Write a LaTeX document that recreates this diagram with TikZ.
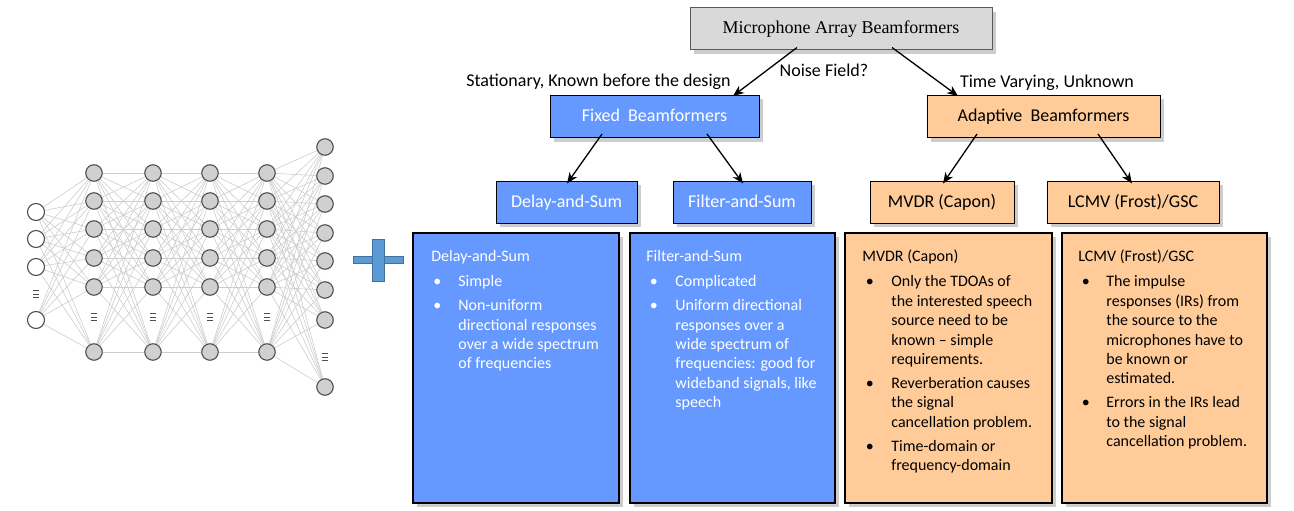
\documentclass[tikz,border=0pt]{standalone}
\usepackage{fontspec}
\setmainfont{Carlito}
\newfontfamily\serifmain{Liberation Serif}
\usetikzlibrary{arrows.meta,shadows,backgrounds}
\definecolor{fbblue}{RGB}{102,153,255}
\definecolor{aborange}{RGB}{255,204,153}
\definecolor{topgray}{RGB}{217,217,217}
\definecolor{topedge}{RGB}{90,90,90}
\definecolor{shgray}{RGB}{205,205,205}
\definecolor{nnedge}{RGB}{205,205,205}
\definecolor{nnfill}{RGB}{208,208,208}
\definecolor{nnline}{RGB}{80,80,80}
\definecolor{plusblue}{RGB}{91,155,213}
\definecolor{plusedge}{RGB}{65,113,156}
\begin{document}
\begin{tikzpicture}[x=1pt,y=-1pt,
  boxshadow/.style={drop shadow={shadow xshift=4pt,shadow yshift=-4pt,fill=shgray,opacity=1}},
  lbltext/.style={font=\fontsize{18}{21}\selectfont, inner sep=0pt},
  topbox/.style={draw=topedge, line width=1pt, fill=topgray, boxshadow, font=\serifmain\fontsize{18}{21}\selectfont, minimum width=302pt, minimum height=42pt, inner sep=0pt},
  smallbox/.style={draw=black, line width=1pt, boxshadow, font=\fontsize{18}{21}\selectfont, minimum height=42pt, inner sep=0pt, text height=12pt, text depth=2pt},
  bigbox/.style={draw=black, line width=1.6pt, boxshadow, minimum width=206pt, minimum height=270pt, inner sep=0pt},
  boxtext/.style={font=\fontsize{16}{19.4}\selectfont, inner sep=0pt, anchor=north west},
  arr/.style={-{Stealth[length=11pt,width=9pt,inset=3.5pt]}, line width=1.3pt},
  incirc/.style={circle, draw=nnline, fill=white, line width=1.1pt, minimum size=17pt, inner sep=0pt},
  hidcirc/.style={circle, draw=nnline, fill=nnfill, line width=1.1pt, minimum size=16.5pt, inner sep=0pt},
  nnlink/.style={draw=nnedge, line width=0.6pt},
  nndots/.style={draw=nnline, line width=0.9pt}
]
\useasboundingbox (0,0) rectangle (1294,511);

% ---------------- neural network ----------------
\foreach \y [count=\i] in {212,239,267,320} \node[incirc] (in\i) at (36,\y) {};
\foreach \x [count=\l] in {94,153,210,267} {
  \foreach \y [count=\i] in {173,201,229,258,287,352} \node[hidcirc] (h\l-\i) at (\x,\y) {};
}
\foreach \y [count=\i] in {147,176,204,233,261,290,320,387} \node[hidcirc] (out\i) at (325,\y) {};
\begin{scope}[on background layer]
\foreach \i in {1,...,4} \foreach \j in {1,...,6} \draw[nnlink] (in\i) -- (h1-\j);
\foreach \l [evaluate=\l as \m using int(\l+1)] in {1,2,3}
  \foreach \i in {1,...,6} \foreach \j in {1,...,6} \draw[nnlink] (h\l-\i) -- (h\m-\j);
\foreach \i in {1,...,6} \foreach \j in {1,...,8} \draw[nnlink] (h4-\i) -- (out\j);
\end{scope}
\foreach \x/\y in {36/294, 94/317, 153/317, 210/317, 267/317, 325/357} {
  \foreach \d in {-3.5,0,3.5} \draw[nndots] (\x-3,\y+\d) -- (\x+3,\y+\d);
}

% ---------------- plus sign ----------------
\draw[fill=plusblue, draw=plusedge, line width=0.8pt] (353,256.5) rectangle (403,263.5);
\draw[fill=plusblue, draw=plusedge, line width=0.8pt] (372,239) rectangle (384,281);

% ---------------- tree ----------------
\node[topbox] (top) at (841,29) {Microphone Array Beamformers};
\node[smallbox, fill=fbblue, text=white, minimum width=209pt] (fixed) at (654.5,116.5) {Fixed\ \ Beamformers};
\node[smallbox, fill=aborange, minimum width=233pt] (adapt) at (1043.5,116.5) {Adaptive\ \ Beamformers};
\node[smallbox, fill=fbblue, text=white, minimum width=141pt] (delay) at (566.5,202) {Delay-and-Sum};
\node[smallbox, fill=fbblue, text=white, minimum width=138pt] (filter) at (742,202) {Filter-and-Sum};
\node[smallbox, fill=aborange, minimum width=144pt] (mvdr) at (942,202) {MVDR (Capon)};
\node[smallbox, fill=aborange, minimum width=172pt] (lcmv) at (1133,202) {LCMV (Frost)/GSC};

\node[lbltext] (stat) at (598.5,82) {Stationary, Known before the design};
\node[lbltext] (noise) at (824,70) {Noise Field?};
\node[lbltext] (tv) at (1047,83) {Time Varying, Unknown};

\draw[arr] ([xshift=-44pt,yshift=3pt]top.south) -- ([xshift=78.5pt,yshift=-1pt]fixed.north);
\draw[arr] ([xshift=51pt,yshift=3pt]top.south) -- ([xshift=-85.5pt,yshift=-1pt]adapt.north);
\draw[arr] ([xshift=-52.5pt,yshift=4pt]fixed.south) -- ([xshift=0.5pt,yshift=-3pt]delay.north);
\draw[arr] ([xshift=52.5pt,yshift=4pt]fixed.south) -- ([xshift=1pt,yshift=-3pt]filter.north);
\draw[arr] ([xshift=-66.5pt,yshift=4pt]adapt.south) -- ([xshift=1pt,yshift=-3pt]mvdr.north);
\draw[arr] ([xshift=54.5pt,yshift=4pt]adapt.south) -- ([xshift=-1pt,yshift=-3pt]lcmv.north);

% ---------------- detail boxes ----------------
\node[bigbox, fill=fbblue] (dsbox) at (516,368) {};
\node[bigbox, fill=fbblue, minimum width=205pt] (fsbox) at (732.5,368) {};
\node[bigbox, fill=aborange, minimum width=207pt] (mvbox) at (948.5,368) {};
\node[bigbox, fill=aborange, minimum width=205pt] (lcbox) at (1164.5,368) {};

\node[boxtext, text=white] (dstext) at ([xshift=19pt,yshift=-16pt]dsbox.north west) {\begin{tabular}{@{}p{27pt}@{}l@{}}
\multicolumn{2}{@{}l@{}}{Delay-and-Sum}\\[5.5pt]
\hspace{2pt}\textbullet & Simple\\[4.5pt]
\hspace{2pt}\textbullet & Non-uniform\\
 & directional responses\\
 & over a wide spectrum\\
 & of frequencies
\end{tabular}};

\node[boxtext, text=white] (fstext) at ([xshift=17pt,yshift=-16pt]fsbox.north west) {\begin{tabular}{@{}p{29pt}@{}l@{}}
\multicolumn{2}{@{}l@{}}{Filter-and-Sum}\\[5.5pt]
\hspace{3.5pt}\textbullet & Complicated\\[4.5pt]
\hspace{3.5pt}\textbullet & Uniform directional\\
 & responses over a\\
 & wide spectrum of\\
 & frequencies: good for\\
 & wideband signals, like\\
 & speech
\end{tabular}};

\node[boxtext] (mvtext) at ([xshift=18pt,yshift=-16pt]mvbox.north west) {\begin{tabular}{@{}p{29pt}@{}l@{}}
\multicolumn{2}{@{}l@{}}{MVDR (Capon)}\\[5.5pt]
\hspace{3.5pt}\textbullet & Only the TDOAs of\\
 & the interested speech\\
 & source need to be\\
 & known -- simple\\
 & requirements.\\[4.5pt]
\hspace{3.5pt}\textbullet & Reverberation causes\\
 & the signal\\
 & cancellation problem.\\[4.5pt]
\hspace{3.5pt}\textbullet & Time-domain or\\
 & frequency-domain
\end{tabular}};

\node[boxtext] (lctext) at ([xshift=17pt,yshift=-16pt]lcbox.north west) {\begin{tabular}{@{}p{28pt}@{}l@{}}
\multicolumn{2}{@{}l@{}}{LCMV (Frost)/GSC}\\[5.5pt]
\hspace{3.5pt}\textbullet & The impulse\\
 & responses (IRs) from\\
 & the source to the\\
 & microphones have to\\
 & be known or\\
 & estimated.\\[4.5pt]
\hspace{3.5pt}\textbullet & Errors in the IRs lead\\
 & to the signal\\
 & cancellation problem.
\end{tabular}};
\end{tikzpicture}
\end{document}
